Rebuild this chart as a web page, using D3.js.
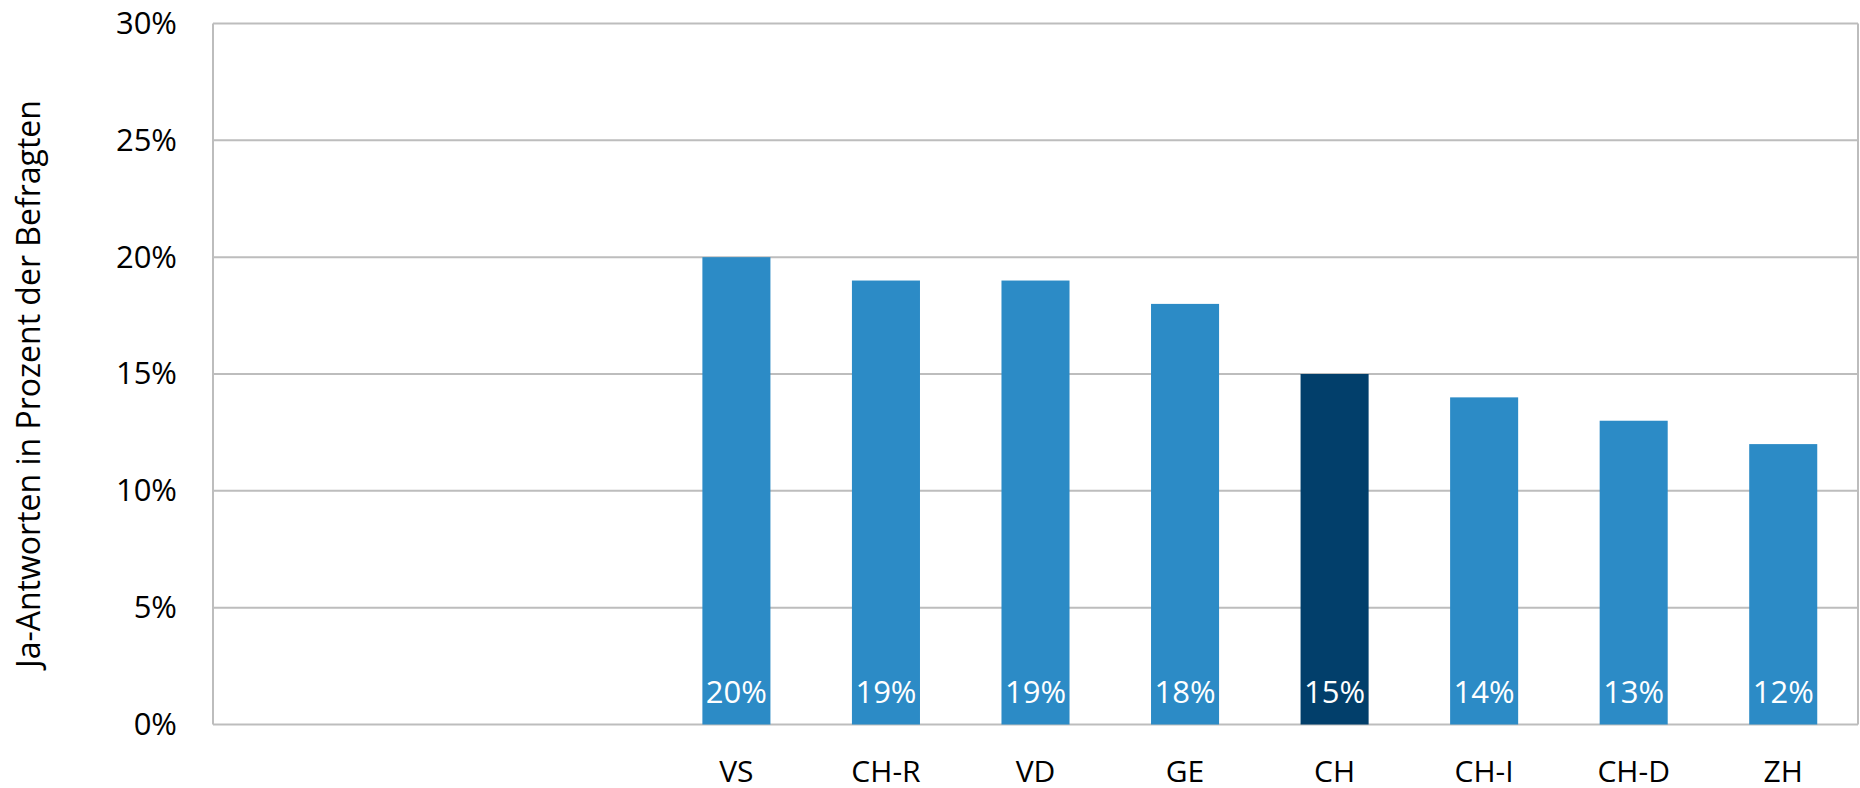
<!DOCTYPE html>
<html>
<head>
<meta charset="utf-8">
<script src="https://cdn.jsdelivr.net/npm/d3@7"></script>
<style>
  html, body { margin: 0; padding: 0; background: #fff; }
  svg { display: block; }
  text { font-family: "Open Sans", "Noto Sans", sans-serif; }
</style>
</head>
<body>
<svg id="chart" width="1860" height="788"></svg>
<script>
// Data
const categories = ["_e1", "_e2", "_e3", "VS", "CH-R", "VD", "GE", "CH", "CH-I", "CH-D", "ZH"];
const categoryLabels = ["", "", "", "VS", "CH-R", "VD", "GE", "CH", "CH-I", "CH-D", "ZH"];
const values = [null, null, null, 20, 19, 19, 18, 15, 14, 13, 12];
const highlight = ["CH"];
const yTicks = [0, 5, 10, 15, 20, 25, 30];
const yTitle = "Ja-Antworten in Prozent der Befragten";

const svg = d3.select("#chart");
const mLeft = 213, mRight = 1858, mTop = 23.5, mBottom = 724.5;

const x = d3.scaleBand().domain(categories).range([mLeft, mRight])
  .paddingInner(0.545).paddingOuter(0.2725);
const y = d3.scaleLinear().domain([0, 30]).range([mBottom, mTop]);

// gridlines
const gridG = svg.append("g");
gridG.selectAll("line").data(yTicks).join("line")
  .attr("x1", mLeft).attr("x2", mRight)
  .attr("y1", d => y(d)).attr("y2", d => y(d))
  .attr("stroke", "#bdbdbd").attr("stroke-width", 2);
// plot border (left/right)
svg.append("line").attr("x1", mLeft).attr("x2", mLeft).attr("y1", y(30)).attr("y2", y(0))
  .attr("stroke", "#bdbdbd").attr("stroke-width", 2);
svg.append("line").attr("x1", mRight).attr("x2", mRight).attr("y1", y(30)).attr("y2", y(0))
  .attr("stroke", "#bdbdbd").attr("stroke-width", 2);

// y axis labels
const yAxis = d3.axisLeft(y).tickValues(yTicks).tickFormat(d => d + "%").tickSize(0).tickPadding(0);
const yG = svg.append("g").attr("transform", `translate(${mLeft - 36},0)`).call(yAxis);
yG.select(".domain").remove();
yG.selectAll("text").attr("font-size", 31).attr("fill", "#000")
  .attr("font-family", '"Open Sans", sans-serif');

// x axis labels
const xAxis = d3.axisBottom(x).tickFormat((d, i) => categoryLabels[i]).tickSize(0).tickPadding(0);
const xG = svg.append("g").attr("transform", `translate(0,${mBottom + 36})`).call(xAxis);
xG.select(".domain").remove();
xG.selectAll("text").attr("font-size", 30).attr("fill", "#000").attr("dy", "0.71em")
  .attr("font-family", '"Open Sans", sans-serif');

// bars
const data = categories.map((c, i) => ({ c, v: values[i] })).filter(d => d.v !== null);
svg.append("g").selectAll("rect").data(data).join("rect")
  .attr("x", d => x(d.c)).attr("width", x.bandwidth())
  .attr("y", d => y(d.v)).attr("height", d => y(0) - y(d.v))
  .attr("fill", d => highlight.includes(d.c) ? "#023f6b" : "#2c8bc6");

// data labels
svg.append("g").selectAll("text").data(data).join("text")
  .attr("x", d => x(d.c) + x.bandwidth() / 2)
  .attr("y", y(0) - 21.5)
  .attr("text-anchor", "middle")
  .attr("font-size", 31).attr("fill", "#fff")
  .text(d => d.v + "%");

// y title
svg.append("text")
  .attr("transform", `translate(40,384) rotate(-90)`)
  .attr("text-anchor", "middle")
  .attr("font-size", 32).attr("fill", "#000")
  .text(yTitle);
</script>
</body>
</html>
